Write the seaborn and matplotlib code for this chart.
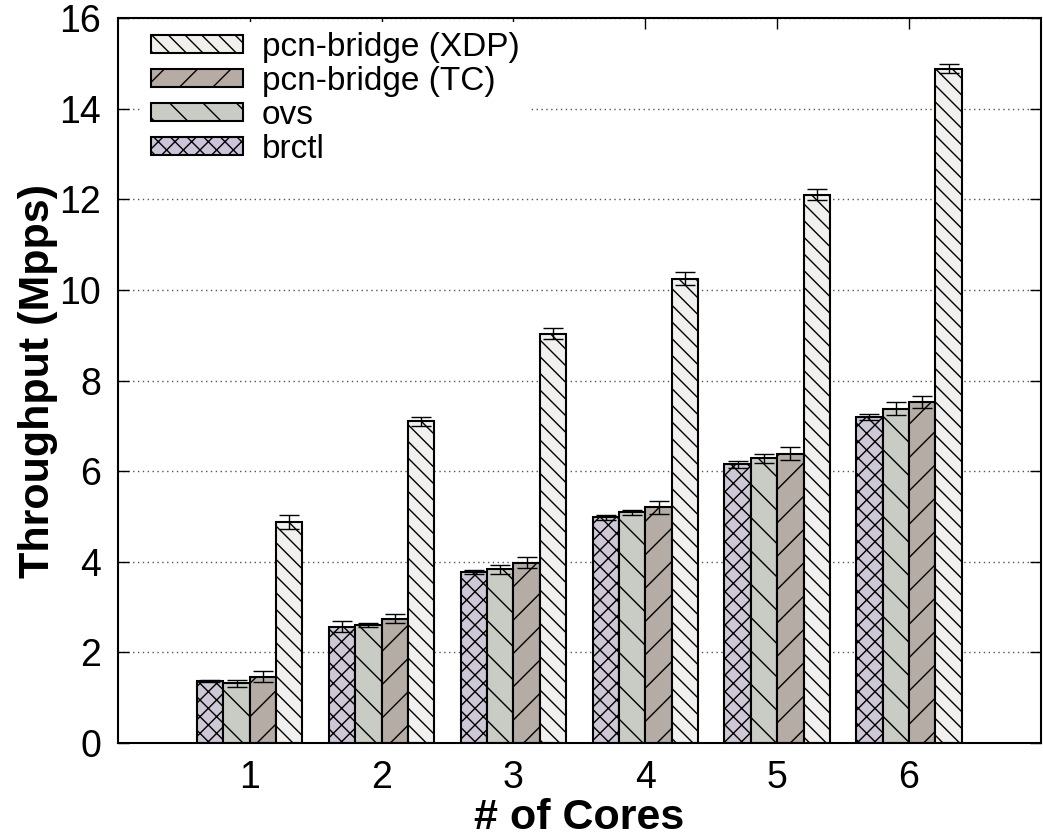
import numpy as np
import pandas as pd
import matplotlib
matplotlib.use("Agg")
import matplotlib.pyplot as plt
import seaborn as sns
from matplotlib.patches import Patch

# values
cores = [1, 2, 3, 4, 5, 6]
switches = ["brctl", "ovs", "pcn-bridge (TC)", "pcn-bridge (XDP)"]

brctl = [1.37, 2.57, 3.78, 4.98, 6.15, 7.20]
ovs = [1.32, 2.60, 3.84, 5.09, 6.28, 7.38]
pcn_tc = [1.46, 2.74, 3.98, 5.20, 6.39, 7.53]
pcn_xdp = [4.88, 7.10, 9.03, 10.25, 12.10, 14.88]

brctl_err = [0.02, 0.12, 0.04, 0.06, 0.07, 0.06]
ovs_err = [0.08, 0.05, 0.10, 0.06, 0.10, 0.15]
pcn_tc_err = [0.12, 0.10, 0.12, 0.14, 0.15, 0.13]
pcn_xdp_err = [0.15, 0.10, 0.12, 0.15, 0.12, 0.10]

colors = {"brctl": "#ccc4d8", "ovs": "#c9ccc4",
          "pcn-bridge (TC)": "#b6aca3", "pcn-bridge (XDP)": "#f2f0ed"}
hatches = {"brctl": "xx", "ovs": "\\", "pcn-bridge (TC)": "/",
           "pcn-bridge (XDP)": "\\\\"}

values = dict(zip(switches, [brctl, ovs, pcn_tc, pcn_xdp]))
errors = dict(zip(switches, [brctl_err, ovs_err, pcn_tc_err, pcn_xdp_err]))

rows = []
for s in switches:
    for c, v in zip(cores, values[s]):
        rows.append({"cores": c, "tput": v, "switch": s})
df = pd.DataFrame(rows)

sns.set_style("ticks")
plt.rcParams["font.family"] = ["Liberation Sans", "DejaVu Sans"]
plt.rcParams["hatch.linewidth"] = 1.0
for k in ["text.color", "axes.labelcolor", "xtick.color", "ytick.color", "axes.edgecolor"]:
    plt.rcParams[k] = "black"

fig = plt.figure(figsize=(10.43, 8.39), dpi=100)
ax = fig.add_axes([0.113, 0.1144, 0.885, 0.864])

sns.barplot(data=df, x="cores", y="tput", hue="switch", hue_order=switches,
            palette=colors, edgecolor="black", linewidth=1.5, width=0.8,
            errorbar=None, legend=False, ax=ax, zorder=2)

for s, cont in zip(switches, ax.containers):
    for bar, e in zip(cont, errors[s]):
        bar.set_hatch(hatches[s])
        xc = bar.get_x() + bar.get_width() / 2
        ax.errorbar(xc, bar.get_height(), yerr=e, fmt="none", ecolor="black",
                    elinewidth=1, capsize=7, capthick=1, zorder=3)

ax.set_xlim(-1, 6)
ax.set_ylim(0, 16)
ax.set_yticks(np.arange(0, 17, 2))
ax.yaxis.grid(True, linestyle=(0, (1, 2.5)), color="#555555", linewidth=1, zorder=0)
ax.set_axisbelow(True)

ax.tick_params(direction="in", top=True, right=True, labelsize=27, length=8, width=1)
ax.tick_params(axis="x", pad=12)
ax.tick_params(axis="y", pad=12)
for sp in ax.spines.values():
    sp.set_visible(True)
    sp.set_linewidth(1.5)
    sp.set_color("black")
    sp.set_zorder(6)

ax.set_xlabel("# of Cores", fontsize=31, fontweight="bold", labelpad=2)
ax.set_ylabel("Throughput (Mpps)", fontsize=31, fontweight="bold", labelpad=1)

handles = [Patch(facecolor=colors[s], edgecolor="black", hatch=hatches[s],
                 linewidth=1.5, label=s) for s in reversed(switches)]
leg = ax.legend(handles=handles, loc="upper left", fontsize=24, frameon=True,
                handlelength=2.75, handleheight=0.45, labelspacing=0.09,
                handletextpad=0.58, borderpad=0.3, borderaxespad=0.0,
                bbox_to_anchor=(0.025, 0.995))
leg.get_frame().set_edgecolor("white")
leg.get_frame().set_facecolor("white")
leg.get_frame().set_alpha(1)
leg.get_frame().set_linewidth(0)
leg.set_zorder(5)

fig.savefig("out.png", dpi=100)
